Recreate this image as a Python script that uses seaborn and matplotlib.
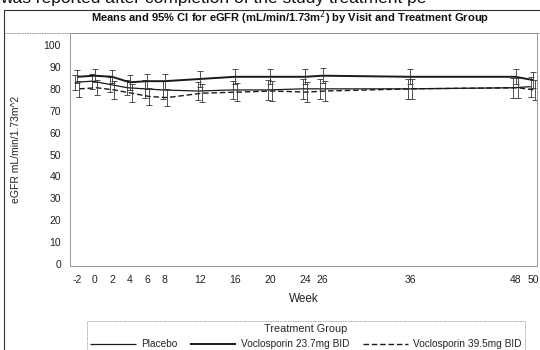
import numpy as np
import pandas as pd
import matplotlib
matplotlib.use("Agg")
import matplotlib.pyplot as plt
import seaborn as sns

# ---- data ----
weeks = [-2, 0, 2, 4, 6, 8, 12, 16, 20, 24, 26, 36, 48, 50]
week_labels = ["-2", "0", "2", "4", "6", "8", "12", "16", "20", "24", "26", "36", "48", "50"]
groups = ["Placebo", "Voclosporin 23.7mg BID", "Voclosporin 39.5mg BID"]
placebo_mean = [83.0, 83.5, 82.0, 80.5, 80.0, 79.5, 79.0, 79.5, 79.5, 80.0, 80.0, 80.0, 80.5, 81.0]
placebo_ci = [3.5, 3.5, 3.5, 3.5, 4.0, 4.0, 4.0, 4.0, 4.5, 4.5, 4.5, 4.5, 4.5, 4.5]
v237_mean = [85.5, 86.0, 85.5, 83.0, 83.5, 83.5, 84.5, 85.5, 85.5, 85.5, 86.0, 85.5, 85.5, 84.0]
v237_ci = [3.0, 3.0, 3.0, 3.5, 3.5, 3.5, 3.5, 3.5, 3.5, 3.5, 3.5, 3.5, 3.5, 3.5]
v395_mean = [80.0, 80.5, 79.5, 78.0, 76.5, 76.0, 78.0, 78.5, 79.0, 78.5, 79.0, 80.0, 80.5, 79.5]
v395_ci = [3.5, 3.5, 4.0, 4.0, 4.0, 4.0, 4.0, 4.0, 4.5, 4.5, 4.5, 4.5, 4.5, 4.5]

means = [placebo_mean, v237_mean, v395_mean]
cis = [placebo_ci, v237_ci, v395_ci]
offsets = [-0.25, 0.0, 0.25]
styles = [(0, ()), (0, ()), (0, (4, 2))]
widths = [0.9, 1.4, 1.0]

rows = []
for g, m, c, off in zip(groups, means, cis, offsets):
    for w, mv, cv in zip(weeks, m, c):
        rows.append({"Week": w + off, "Mean": mv, "CI": cv, "Group": g})
df = pd.DataFrame(rows)

sns.set_theme(style="white")
plt.rcParams["font.family"] = ["Liberation Sans", "DejaVu Sans"]

fig = plt.figure(figsize=(5.4, 3.5), dpi=100)
ax = fig.add_axes([70 / 540, 1 - 266 / 350, (537 - 70) / 540, (266 - 33) / 350])

for g, ls, lw in zip(groups, styles, widths):
    sub = df[df["Group"] == g]
    sns.lineplot(data=sub, x="Week", y="Mean", ax=ax, color="#1a1a1a",
                 linestyle=ls, linewidth=lw, label=g, errorbar=None, legend=False)
    ax.errorbar(sub["Week"], sub["Mean"], yerr=sub["CI"], fmt="none",
                ecolor="#333333", elinewidth=0.6, capsize=2.5, capthick=0.6)

ax.set_xlim(-2.8, 50.45)
ax.set_ylim(-0.9, 105.5)
ax.set_yticks(range(0, 101, 10))
ax.set_xticks(weeks)
ax.set_xticklabels(week_labels, fontsize=7.5, color="#222222")
ax.tick_params(axis="y", labelsize=7.5, colors="#222222", length=3, width=0.5)
ax.tick_params(axis="x", length=3, width=0.5, colors="#222222")
ax.set_xlabel("Week", fontsize=8.5, color="#222222", labelpad=6)
ax.set_ylabel("eGFR mL/min/1.73m^2", fontsize=7.5, color="#222222", labelpad=16)
for sp in ax.spines.values():
    sp.set_color("#888888")
    sp.set_linewidth(0.6)
    sp.set_linestyle((0, (2, 1)))

# legend
handles = [plt.Line2D([0], [0], color="#1a1a1a", linestyle=ls, linewidth=lw)
           for ls, lw in zip(styles, widths)]
leg = fig.legend(handles, groups, title="Treatment Group", ncol=3,
                 loc="upper center", bbox_to_anchor=(306 / 540, 1 - 316 / 350),
                 fontsize=7.3, title_fontsize=7.8, frameon=True, fancybox=False,
                 handlelength=4.5, columnspacing=1.3, borderpad=0.3,
                 handletextpad=0.5)
leg.get_frame().set_edgecolor("#888888")
leg.get_frame().set_linewidth(0.6)
leg.get_frame().set_linestyle((0, (2, 1)))

# title and header
fig.text(290 / 540, 1 - 18 / 350,
         "Means and 95% CI for eGFR (mL/min/1.73m$^2$) by Visit and Treatment Group",
         ha="center", va="center", fontsize=8, fontweight="bold", color="#111111")
fig.text(0.0, 1 - 3 / 350, "was reported after completion of the study treatment pe",
         ha="left", va="baseline", fontsize=12.5, color="#111111")

# outer box
fig.add_artist(plt.Rectangle((4 / 540, -0.01), 1.0, 1 - 10 / 350 + 0.01,
                             transform=fig.transFigure, fill=False,
                             edgecolor="#333333", linewidth=0.8))
fig.add_artist(plt.Line2D([4 / 540, 1.0], [1 - 33 / 350, 1 - 33 / 350],
                          transform=fig.transFigure, color="#888888",
                          linewidth=0.6, linestyle=(0, (2, 1))))

fig.savefig("out.png", dpi=100, facecolor="white")
